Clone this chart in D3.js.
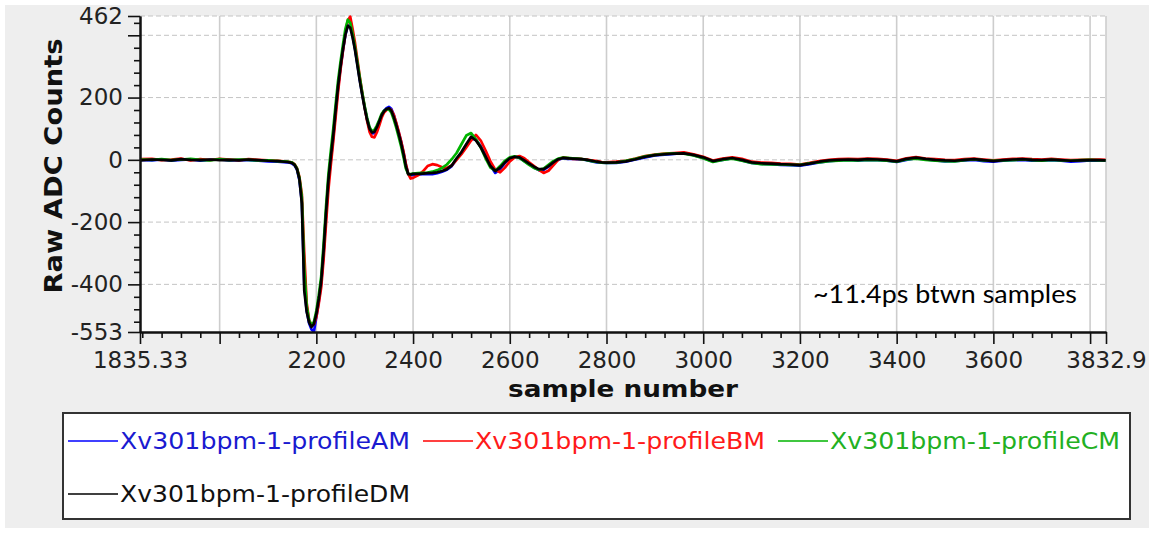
<!DOCTYPE html>
<html><head><meta charset="utf-8">
<script src="https://cdn.jsdelivr.net/npm/d3@7"></script>
<style>body{margin:0;background:#fff;} svg{display:block}</style>
</head><body><svg id="c" width="1149" height="535"></svg>
<script>
// ---- DATA ----
const sampleNumbers = [1836,1860,1880,1900,1920,1940,1960,1980,2000,2020,2040,2060,2080,2100,2120,2140,
 2145,2150,2155,2160,2165,2170,2175,2180,2185,2190,2195,2200,2205,2210,2215,2220,2225,2230,2235,2240,
 2245,2250,2255,2260,2265,2270,2275,2280,2285,2290,2295,2300,2305,2310,2315,2320,2325,2330,2335,2340,
 2345,2350,2355,2360,2365,2370,2375,2380,2385,2390,2395,2400,
 2410,2420,2430,2440,2450,2460,2470,2480,2490,2500,2510,2520,2530,2540,2550,2560,2570,2580,2590,2600,
 2610,2620,2630,2640,2650,2660,2670,2680,2690,2700,2710,2720,2730,2740,2750,2760,2770,2780,2790,2800,
 2820,2840,2860,2880,2900,2920,2940,2960,2980,3000,3020,3040,3060,3080,3100,3120,3140,3160,3180,3200,
 3220,3240,3260,3280,3300,3320,3340,3360,3380,3400,3420,3440,3460,3480,3500,3520,3540,3560,3580,3600,
 3620,3640,3660,3680,3700,3720,3740,3760,3780,3800,3820,3832];

const profileAM = [0,-2,1,-3,0,1,-3,0,1,-2,-1,-1,-3,-5,-6,-8,
 -9,-12,-18,-32,-65,-135,-400,-485,-525,-545,-552,-505,-455,-398,-300,-180,-72,0,72,155,
 232,296,352,400,432,430,398,356,306,255,210,168,130,100,85,86,100,120,142,158,
 166,170,164,145,118,90,60,25,-15,-45,-50,-48,
 -47,-46,-45,-46,-43,-38,-32,-20,2,22,48,70,64,44,14,-18,-42,-30,-10,4,
 9,7,-4,-14,-25,-33,-32,-22,-10,0,5,3,4,2,1,-1,-5,-8,-9,-10,
 -10,-6,1,8,14,17,19,22,15,6,-5,0,5,-2,-10,-13,-14,-16,-17,-19,
 -14,-8,-4,-2,0,-3,0,-1,-3,-7,0,5,1,-2,-5,-4,-2,0,-4,-6,
 -3,-1,0,-3,-2,-1,-3,-6,-4,-2,-3,-3];

const profileBM = [2,3,-1,1,4,-2,2,-1,3,1,-1,2,0,-2,-3,-6,
 -7,-9,-14,-27,-55,-110,-300,-460,-515,-530,-528,-505,-462,-410,-320,-205,-95,-15,60,140,
 220,290,350,405,448,460,420,375,320,265,215,168,125,90,74,72,88,110,135,152,
 160,164,160,145,120,92,62,28,-12,-45,-60,-58,
 -50,-38,-20,-14,-17,-24,-26,-18,0,18,40,62,80,62,30,-5,-32,-40,-25,-5,
 8,12,5,-8,-20,-32,-42,-35,-18,0,8,6,3,4,2,1,-2,-4,-7,-8,
 -6,-3,4,12,17,20,22,24,18,10,-2,4,8,3,-6,-9,-10,-12,-13,-15,
 -10,-4,0,2,3,2,4,3,1,-3,5,9,4,2,0,-1,2,4,1,-2,
 1,3,4,2,1,3,1,-1,0,1,1,0];

const profileCM = [1,0,2,-1,1,3,0,-2,2,-1,1,0,-2,-2,-4,-6,
 -7,-9,-15,-28,-58,-120,-350,-470,-515,-532,-520,-485,-435,-375,-270,-150,-45,30,100,180,
 255,315,370,420,450,440,405,362,312,262,215,172,135,105,92,96,110,128,148,158,
 162,162,152,130,104,75,45,10,-28,-45,-46,-44,
 -43,-42,-41,-38,-33,-26,-15,2,22,50,78,86,66,40,5,-25,-35,-20,-3,8,
 11,6,-5,-16,-26,-32,-28,-16,-4,4,7,6,5,4,2,-1,-4,-7,-9,-10,
 -9,-3,3,11,16,19,21,20,14,5,-7,0,4,-3,-10,-14,-15,-15,-16,-16,
 -11,-8,-4,-3,-1,-2,0,-1,-3,-6,1,4,0,-3,-4,-5,-1,1,-2,-3,
 -2,-1,1,-1,-3,0,-2,-3,-1,0,-2,-2];

const profileDM = [-2,1,0,-2,2,0,-1,1,-1,0,-2,1,-1,-3,-4,-7,
 -8,-10,-16,-30,-62,-140,-420,-488,-522,-537,-527,-495,-447,-390,-290,-170,-64,10,80,162,
 238,300,355,402,430,425,393,352,302,252,207,165,128,100,88,90,104,123,143,156,
 163,166,158,138,113,85,55,20,-20,-46,-47,-45,
 -45,-44,-43,-42,-40,-36,-30,-18,5,25,50,74,62,40,10,-20,-36,-25,-8,5,
 10,8,-2,-12,-22,-30,-30,-20,-8,2,6,5,4,3,2,0,-3,-6,-8,-9,
 -8,-5,2,10,15,18,20,21,16,8,-4,2,6,0,-8,-11,-12,-14,-15,-17,
 -12,-6,-2,0,1,0,2,1,-1,-5,3,7,3,0,-2,-3,0,2,-1,-4,
 -1,1,2,0,-1,1,-1,-3,-2,-1,-1,-2];

const seriesNames = ["Xv301bpm-1-profileAM","Xv301bpm-1-profileBM","Xv301bpm-1-profileCM","Xv301bpm-1-profileDM"];
const seriesValues = [profileAM, profileBM, profileCM, profileDM];
const seriesColors = ["#0000ff","#ff0000","#00b400","#000000"];
const legendTextColors = ["#1a1ad0","#ff1a1a","#22b022","#111111"];

const xTickValues = [1835.33,2000,2200,2400,2600,2800,3000,3200,3400,3600,3800,3832.9];
const xTickLabels = ["1835.33","","2200","2400","2600","2800","3000","3200","3400","3600","","3832.9"];
const yTickValues = [-553,-400,-200,0,200,400,462];
const yTickLabels = ["-553","-400","-200","0","200","","462"];
const xTitle = "sample number";
const yTitle = "Raw ADC Counts";
const note = "~11.4ps btwn samples";

// ---- DRAW ----
const svg = d3.select("#c");
const L = 140, R = 1106, T = 16, B = 332;
const x = d3.scaleLinear().domain([1835.33, 3832.9]).range([L, R]);
const y = d3.scaleLinear().domain([-553, 462]).range([B, T]);
const FONT = "'DejaVu Sans', sans-serif";

svg.append("rect").attr("x",5).attr("y",5).attr("width",1144).attr("height",523).attr("fill","#eeeeee");
svg.append("rect").attr("x",L).attr("y",T).attr("width",R-L).attr("height",B-T).attr("fill","#ffffff");

// grid
svg.append("g").selectAll("line").data(xTickValues.slice(1)).join("line")
  .attr("x1",d=>x(d)).attr("x2",d=>x(d)).attr("y1",T).attr("y2",B)
  .attr("stroke","#cdcdcd").attr("stroke-width",1.6);
svg.append("g").selectAll("line").data(yTickValues.slice(1)).join("line")
  .attr("x1",L).attr("x2",R).attr("y1",d=>y(d)).attr("y2",d=>y(d))
  .attr("stroke","#c4c4c4").attr("stroke-width",1).attr("stroke-dasharray","5,3");

// lines
svg.append("clipPath").attr("id","clip").append("rect").attr("x",L).attr("y",T-4).attr("width",R-L).attr("height",B-T+8);
const line = d3.line().x(d=>x(d[0])).y(d=>y(d[1]));
const lg = svg.append("g").attr("clip-path","url(#clip)");
seriesValues.forEach((vals,i)=>{
  const pts = sampleNumbers.map((s,j)=>[s, vals[j]]);
  lg.append("path").datum(pts).attr("d",line).attr("fill","none")
    .attr("stroke",seriesColors[i]).attr("stroke-width",2.7).attr("stroke-linejoin","round");
});

// axes
const xMinor = d3.range(1840, 3832, 40).filter(v=>v%200!==0);
const yMinor = d3.range(-520, 462, 40).filter(v=>v%200!==0);

function styleAxis(g){
  g.select(".domain").attr("stroke","#111").attr("stroke-width",2);
  g.selectAll(".tick line").attr("stroke","#111").attr("stroke-width",1.6);
  g.selectAll(".tick text").attr("font-family",FONT).attr("font-size",23).attr("fill","#222");
}
const gxm = svg.append("g").attr("transform",`translate(0,${B})`)
  .call(d3.axisBottom(x).tickValues(xMinor).tickSize(6).tickSizeOuter(0).tickFormat(""));
styleAxis(gxm);
const gx = svg.append("g").attr("transform",`translate(0,${B})`)
  .call(d3.axisBottom(x).tickValues(xTickValues).tickSize(12).tickSizeOuter(0).tickPadding(8)
    .tickFormat((d,i)=>xTickLabels[i]));
styleAxis(gx);
const gym = svg.append("g").attr("transform",`translate(${L},0)`)
  .call(d3.axisLeft(y).tickValues(yMinor).tickSize(6).tickSizeOuter(0).tickFormat(""));
styleAxis(gym);
const gy = svg.append("g").attr("transform",`translate(${L},0)`)
  .call(d3.axisLeft(y).tickValues(yTickValues).tickSize(12).tickSizeOuter(0).tickPadding(5)
    .tickFormat((d,i)=>yTickLabels[i]));
styleAxis(gy);

// titles
svg.append("text").attr("x",(L+R)/2).attr("y",397).attr("text-anchor","middle")
  .attr("font-family",FONT).attr("font-weight","bold").attr("font-size",23).attr("fill","#111")
  .attr("textLength",230).attr("lengthAdjust","spacingAndGlyphs").text(xTitle);
svg.append("text").attr("transform","translate(62,166) rotate(-90)").attr("text-anchor","middle")
  .attr("font-family",FONT).attr("font-weight","bold").attr("font-size",25).attr("fill","#111")
  .attr("textLength",255).attr("lengthAdjust","spacingAndGlyphs").text(yTitle);

// annotation
svg.append("text").attr("x",813).attr("y",303).attr("font-family","Lato, 'Open Sans', sans-serif")
  .attr("font-size",25).attr("fill","#000").attr("textLength",264).attr("lengthAdjust","spacingAndGlyphs").text(note);

// legend
svg.append("rect").attr("x",63).attr("y",413).attr("width",1067).attr("height",106)
  .attr("fill","#ffffff").attr("stroke","#333").attr("stroke-width",2);
const pos = [[68,441],[423,441],[778,441],[68,494]];
seriesNames.forEach((n,i)=>{
  const [px,py] = pos[i];
  svg.append("line").attr("x1",px).attr("x2",px+50).attr("y1",py).attr("y2",py)
    .attr("stroke",seriesColors[i]).attr("stroke-width",1.5);
  svg.append("text").attr("x",px+52).attr("y",py+7.5).attr("font-family",FONT).attr("font-size",23)
    .attr("fill",legendTextColors[i]).attr("textLength",290).attr("lengthAdjust","spacingAndGlyphs").text(n);
});
</script></body></html>
